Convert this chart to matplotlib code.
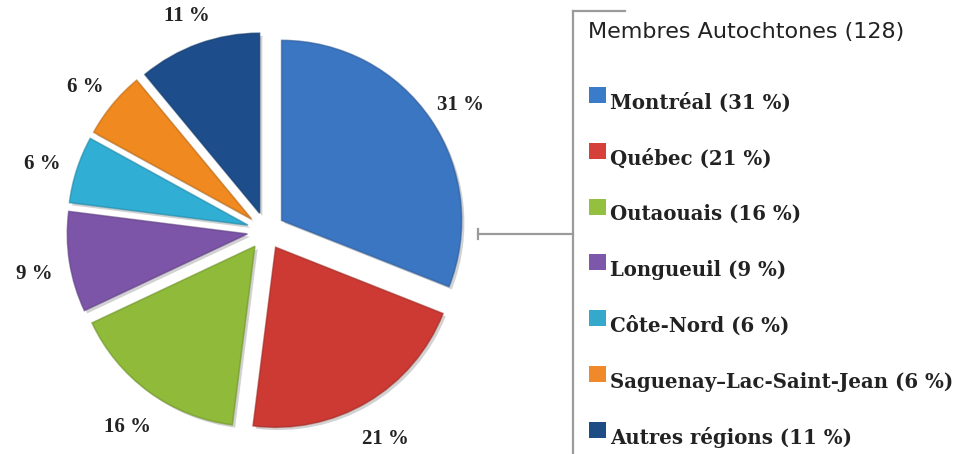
import matplotlib.pyplot as plt
import matplotlib.patheffects as pe
from matplotlib.colors import to_rgb
from matplotlib.patches import Rectangle
from matplotlib.lines import Line2D

regions = ["Montréal", "Québec", "Outaouais", "Longueuil", "Côte-Nord",
           "Saguenay–Lac-Saint-Jean", "Autres régions"]
shares = [31, 21, 16, 9, 6, 6, 11]
pie_colors = ["#3b76c2", "#cc3a33", "#8fba3a", "#7c55a8", "#31aed3", "#f0891f", "#1d4e8b"]
key_colors = ["#3a7cc9", "#d6403a", "#93c03f", "#7d58aa", "#35a9cc", "#f0892a", "#1e4d86"]
legend_title = "Membres Autochtones (128)"

W, H = 976, 454
fig = plt.figure(figsize=(W / 100, H / 100), dpi=100)
fig.patch.set_facecolor("white")

# pie axes: 400x400 px centred at (266, 231), radius 180 px
cx, cy, R = 266, 231, 180
ax = fig.add_axes([(cx - 200) / W, 1 - (cy + 200) / H, 400 / W, 400 / H])
lim = 200 / R
wedges, texts, autotexts = ax.pie(
    shares, colors=pie_colors, explode=[0.105] * len(shares), startangle=90,
    counterclock=False, autopct=lambda p: f"{p:.0f} %", pctdistance=1.2,
    wedgeprops=dict(edgecolor="none"),
    textprops=dict(family="Liberation Serif", fontweight="bold",
                   fontsize=15, color="#222222"))
ax.set_xlim(-lim, lim)
ax.set_ylim(-lim, lim)
ax.set_aspect("equal")

for t in autotexts:
    x, y = t.get_position()
    t.set_position((x, y - 6 / R))

for w, c in zip(wedges, pie_colors):
    dark = tuple(v * 0.8 for v in to_rgb(c))
    w.set_path_effects([
        pe.SimplePatchShadow(offset=(2, -2), shadow_rgbFace="#b5b5b5", alpha=0.6),
        pe.Normal(),
        pe.Stroke(linewidth=1.2, foreground=dark, alpha=0.6)])

# bracket lines
grey = "#9b9b9b"
def px(x, y):
    return x / W, 1 - y / H

for (x0, y0), (x1, y1) in [((573, 11), (573, 454)), ((573, 11), (625, 11)),
                           ((478, 234), (573, 234)), ((478, 229), (478, 239))]:
    a, b = px(x0, y0)
    c, d = px(x1, y1)
    fig.add_artist(Line2D([a, c], [b, d], color=grey, linewidth=1.6))

fig.text(*px(588, 32), legend_title, family="DejaVu Sans", fontsize=16,
         color="#222222", va="center", ha="left")

for i, (name, s, col) in enumerate(zip(regions, shares, key_colors)):
    y = 102.5 + i * 55.8
    fig.add_artist(Rectangle(px(589, y + 0.5), 17 / W, 16 / H,
                             transform=fig.transFigure, facecolor=col,
                             edgecolor="none"))
    fig.text(*px(610, y), f"{name} ({s} %)", family="DejaVu Serif",
             fontweight="bold", fontsize=14.2, color="#222222",
             va="center", ha="left")

fig.savefig("out.png", dpi=100)
